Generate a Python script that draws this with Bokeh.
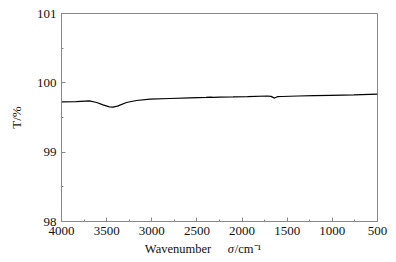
from bokeh.plotting import figure
from bokeh.layouts import column
from bokeh.models import Range1d, SingleIntervalTicker, ColumnDataSource
from bokeh.core.properties import value
from bokeh.embed import file_html
from bokeh.resources import INLINE

wavenumber = [4000, 3840, 3690, 3610, 3540, 3470, 3430, 3380, 3280, 3170, 3020,
              2800, 2580, 2400, 2350, 2320, 2250, 2100, 1940, 1720, 1680, 1640,
              1610, 1560, 1380, 1200, 1020, 760, 500]
transmittance = [99.725, 99.73, 99.74, 99.716, 99.683, 99.654, 99.65, 99.664,
                 99.716, 99.745, 99.765, 99.774, 99.784, 99.79, 99.795, 99.79,
                 99.795, 99.797, 99.80, 99.81, 99.805, 99.78, 99.80, 99.803,
                 99.81, 99.815, 99.82, 99.827, 99.836]
x_label = "Wavenumber"
x_unit_symbol = "σ"
x_unit = "/cm⁻¹"
y_label = "T/%"

FONT = "Liberation Serif"
AX = "#888888"
TXT = "#111111"

p = figure(width=396, height=242, output_backend="svg", toolbar_location=None,
           x_range=Range1d(4000, 500), y_range=Range1d(98, 101),
           min_border_left=61, min_border_right=19, min_border_top=13,
           min_border_bottom=21)
p.background_fill_color = "white"
p.border_fill_color = "white"
p.outline_line_color = AX
p.outline_line_width = 1
p.xgrid.visible = False
p.ygrid.visible = False

p.xaxis.ticker = SingleIntervalTicker(interval=500, num_minor_ticks=2)
p.yaxis.ticker = SingleIntervalTicker(interval=1, num_minor_ticks=2)
for ax in (p.xaxis[0], p.yaxis[0]):
    ax.axis_line_color = AX
    ax.major_tick_line_color = AX
    ax.minor_tick_line_color = AX
    ax.major_tick_in = 4
    ax.major_tick_out = 0
    ax.minor_tick_in = 2
    ax.minor_tick_out = 0
    ax.major_label_text_font = FONT
    ax.major_label_text_font_size = "13px"
    ax.major_label_text_color = TXT
    ax.axis_label_text_font = FONT
    ax.axis_label_text_font_size = "13px"
    ax.axis_label_text_font_style = "normal"
    ax.axis_label_text_color = TXT

p.xaxis.major_label_standoff = 5
p.yaxis.major_label_standoff = 5
p.yaxis.axis_label = y_label
p.yaxis.axis_label_standoff = 10

p.line(wavenumber, transmittance, line_color="black", line_width=1.2)

# strip below the plot carrying the x-axis title (mixed upright / italic),
# sharing the plot's wavenumber scale
q = figure(width=396, height=20, output_backend="svg", toolbar_location=None,
           x_range=p.x_range, y_range=Range1d(0, 20),
           x_axis_type=None, y_axis_type=None,
           min_border_left=61, min_border_right=19, min_border_top=0,
           min_border_bottom=0)
q.title = None
q.outline_line_color = None
q.xgrid.visible = False
q.ygrid.visible = False
q.background_fill_color = "white"
q.border_fill_color = "white"

upright = ColumnDataSource(dict(x=[3077, 2080], y=[14, 14], t=[x_label, x_unit]))
q.text(x="x", y="y", text="t", source=upright, text_font=value(FONT),
       text_font_size="12.5px", text_baseline="middle", text_align="left",
       text_color=TXT)
q.text(x=[2158], y=[14], text=[x_unit_symbol], text_font=value(FONT),
       text_font_size="12.5px", text_font_style="italic",
       text_baseline="middle", text_align="left", text_color=TXT)

layout = column(p, q, spacing=0)
open("out.html", "w").write(file_html(layout, INLINE))
